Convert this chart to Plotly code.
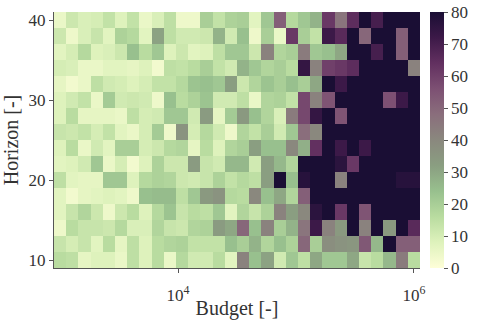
import numpy as np
import plotly.graph_objects as go

# Horizon values (rows, bottom -> top) and budget grid (log-spaced, 30 columns)
horizon = [10, 12, 14, 16, 18, 20, 22, 24, 26, 28, 30, 32, 34, 36, 38, 40]
budget_log_min = 3.0
budget_log_max = 6.0
n_budget = 30

# values read row by row, listed from top (horizon 40) to bottom (horizon 10)
row_40 = [5,12,9,10,14,8,14,5,9,15,4,4,20,14,19, 20,7,22,52,17,22,27,62,46,65,80,70,80,80,80]
row_38 = [12,4,9,13,7,19,17,7,31,15,11,11,12,27,11, 24,4,20,5,62,20,14,72,66,80,50,80,80,52,80]
row_36 = [7,10,17,8,9,12,24,16,22,8,12,7,8,15,22, 22,12,42,18,20,44,22,24,30,80,80,70,80,52,80]
row_34 = [10,9,5,5,7,7,6,8,3,15,14,16,20,14,11, 27,22,18,20,16,74,42,60,62,65,80,80,80,80,42]
row_32 = [6,3,5,15,11,10,8,10,14,14,17,23,24,22,32, 12,18,23,20,24,20,30,80,72,80,80,80,80,80,80]
row_30 = [8,11,14,5,21,11,12,11,4,24,16,19,23,11,11, 15,5,18,19,14,58,42,55,80,80,80,80,56,72,80]
row_28 = [8,16,6,6,6,5,15,10,11,22,22,11,33,6,21, 34,24,18,9,44,58,74,80,55,80,80,80,80,80,80]
row_26 = [13,12,14,10,14,7,5,10,21,4,36,10,17,11,4, 18,14,20,11,22,48,40,80,80,80,80,80,80,80,80]
row_24 = [8,16,5,11,7,20,20,10,12,17,18,6,16,8,18, 20,32,24,24,40,28,64,80,72,80,72,80,80,80,80]
row_22 = [7,8,11,22,5,10,3,8,19,12,12,33,13,11,26, 26,11,32,26,18,80,80,80,76,62,80,80,80,80,80]
row_20 = [15,7,6,6,22,22,8,17,19,18,12,11,13,19,14, 17,15,32,80,24,77,80,80,42,80,80,80,80,77,77]
row_18 = [7,3,6,7,8,7,4,24,25,25,15,22,34,36,17, 16,40,24,30,18,52,80,80,80,80,80,80,80,80,80]
row_16 = [7,13,18,12,4,12,16,8,17,23,13,16,15,22,7, 18,13,19,42,32,40,76,80,62,80,55,80,80,80,80]
row_14 = [4,16,13,13,12,17,9,9,18,13,12,18,19,33,30, 50,24,42,20,27,46,72,42,34,80,42,80,34,80,66]
row_12 = [13,10,13,7,16,6,15,8,16,18,19,14,14,14,24, 20,27,18,24,19,50,20,38,36,35,54,26,80,52,52]
row_10 = [16,15,6,8,8,5,15,8,16,5,17,11,11,16,7, 42,24,31,11,22,15,30,22,22,30,13,16,26,44,16]

z = [row_10, row_12, row_14, row_16, row_18, row_20, row_22, row_24,
     row_26, row_28, row_30, row_32, row_34, row_36, row_38, row_40]

x_tickvals = [1e4, 1e6]
x_ticktext = ["10<sup>4</sup>", "10<sup>6</sup>"]

# cell edges in log space (half a step beyond the first/last centres)
step = (budget_log_max - budget_log_min) / (n_budget - 1)
x_edges = 10 ** np.linspace(budget_log_min - step / 2, budget_log_max + step / 2, n_budget + 1)

# reversed "tokyo"-like colour map
colorscale = [
    [0.0, "rgb(254,254,216)"],
    [0.1, "rgb(222,242,188)"],
    [0.2, "rgb(185,220,160)"],
    [0.3, "rgb(152,192,142)"],
    [0.4, "rgb(138,158,129)"],
    [0.5, "rgb(138,136,126)"],
    [0.6, "rgb(138,110,124)"],
    [0.7, "rgb(125,80,115)"],
    [0.8, "rgb(98,48,96)"],
    [0.9, "rgb(60,25,72)"],
    [1.0, "rgb(26,14,52)"],
]

font_family = "Liberation Serif"
text_color = "#333333"
line_color = "#555555"

fig = go.Figure(
    go.Heatmap(
        x=x_edges,
        y=horizon,
        z=z,
        zmin=0,
        zmax=80,
        colorscale=colorscale,
        colorbar=dict(
            x=1.027,
            xanchor="left",
            xpad=0,
            ypad=0,
            y=0.5,
            len=1,
            lenmode="fraction",
            thickness=14,
            outlinewidth=0,
            tickmode="linear",
            tick0=0,
            dtick=10,
            ticks="outside",
            ticklen=4,
            ticklabeloverflow="allow",
            tickcolor=line_color,
            tickfont=dict(family=font_family, size=17, color=text_color),
        ),
    )
)

fig.update_layout(
    width=480,
    height=320,
    margin=dict(l=54, r=60, t=12, b=52, autoexpand=False),
    paper_bgcolor="white",
    plot_bgcolor="white",
    font=dict(family=font_family, size=17, color=text_color),
    xaxis=dict(
        type="log",
        automargin=False,
        range=[np.log10(x_edges[0]), np.log10(x_edges[-1])],
        tickvals=x_tickvals,
        ticktext=x_ticktext,
        ticks="outside",
        ticklen=4,
        ticklabelstandoff=8,
        tickcolor=line_color,
        showline=True,
        linecolor=line_color,
        linewidth=1,
        showgrid=False,
        zeroline=False,
        title=dict(text="Budget [-]"),
    ),
    yaxis=dict(
        automargin=False,
        range=[9, 41],
        tickvals=[10, 20, 30, 40],
        ticks="outside",
        ticklen=4,
        tickcolor=line_color,
        showline=True,
        linecolor=line_color,
        linewidth=1,
        showgrid=False,
        zeroline=False,
        title=dict(text="Horizon [-]"),
    ),
)

# remove the browser's default 8px body margin so the 480x320 figure fills the window
fig.write_html(
    "out.html",
    config={"displayModeBar": False},
    post_script="document.body.style.margin='0';",
)
